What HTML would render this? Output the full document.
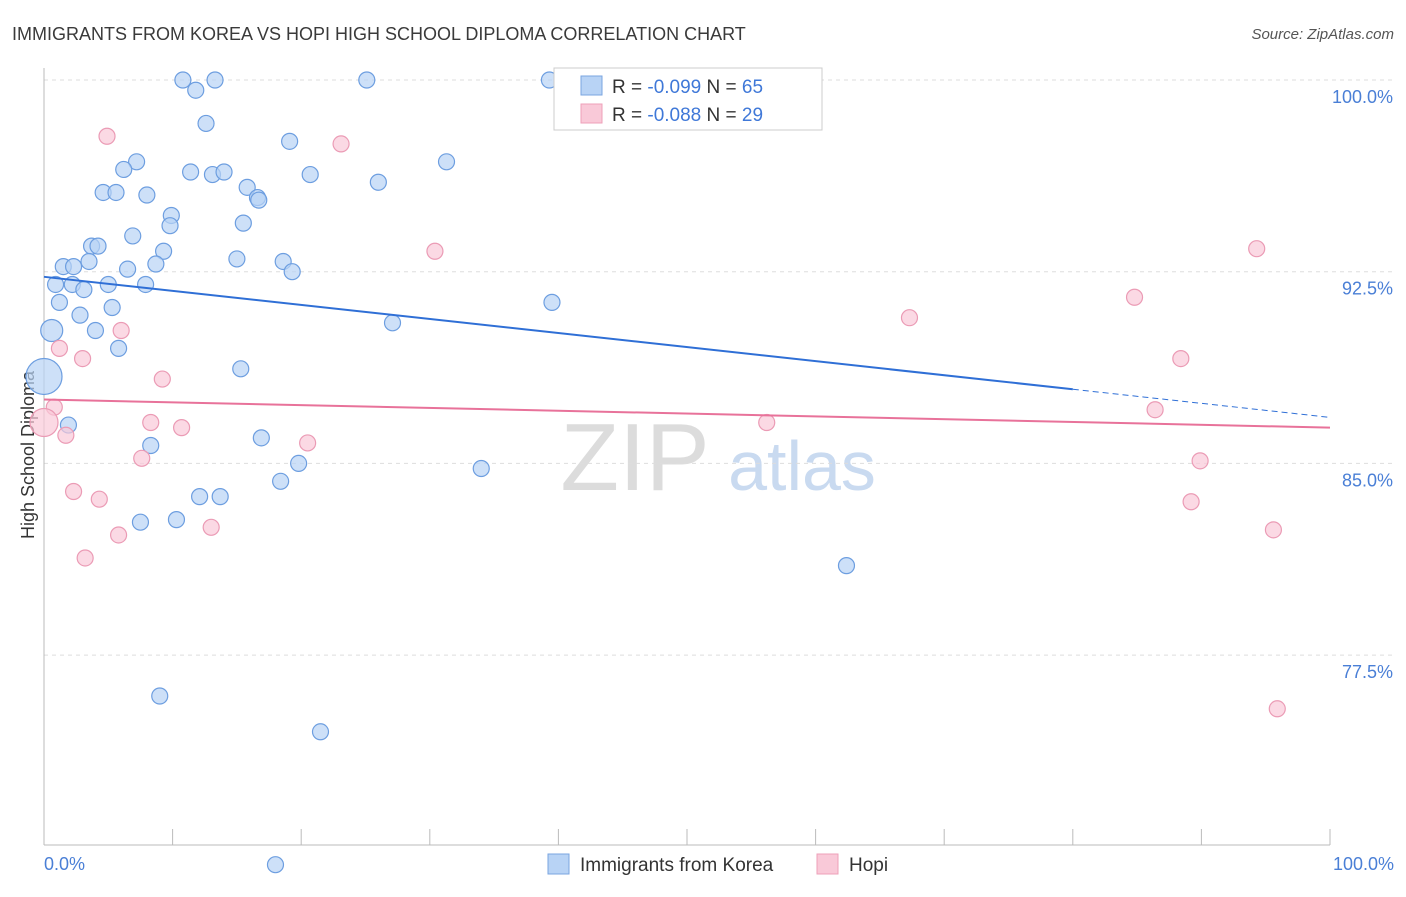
<!DOCTYPE html>
<html><head><meta charset="utf-8"><style>
body{margin:0;background:#fff;font-family:"Liberation Sans",sans-serif;}
svg text{font-family:"Liberation Sans",sans-serif;}
</style></head><body>
<svg id="chart" width="1406" height="892" viewBox="0 0 1406 892" xmlns="http://www.w3.org/2000/svg">
<text x="12" y="40" font-size="18" fill="#3a3a3a">IMMIGRANTS FROM KOREA VS HOPI HIGH SCHOOL DIPLOMA CORRELATION CHART</text>
<text x="1394" y="39" font-size="15" fill="#555" font-style="italic" text-anchor="end">Source: ZipAtlas.com</text>
<g>
<text x="635" y="490" font-size="96" fill="#dcdcdc" font-family="Liberation Serif" text-anchor="middle">ZIP</text>
<text x="802" y="490" font-size="70" fill="#c9daf0" text-anchor="middle">atlas</text>
</g>
<g id="grid"></g>
<line x1="44" y1="68" x2="44" y2="845" stroke="#bbb"/>
<line x1="44" y1="845" x2="1330" y2="845" stroke="#bbb"/>
<g id="xticks"></g>
<text transform="translate(34,455) rotate(-90)" font-size="18" fill="#333" text-anchor="middle">High School Diploma</text>
<text x="44" y="870" font-size="18" fill="#4a7fd6">0.0%</text>
<text x="1394" y="870" font-size="18" fill="#4a7fd6" text-anchor="end">100.0%</text>
<g id="pts"></g>
<g id="trends"></g>
<g>
<rect x="554" y="68" width="268" height="62" fill="#fff" stroke="#ccc"/>
<rect x="581" y="76" width="21" height="19" fill="#b8d3f5" stroke="#7aa5e0"/>
<rect x="581" y="104" width="21" height="19" fill="#f9c9d8" stroke="#eea0b9"/>
<text x="612" y="93" font-size="19" fill="#333">R = <tspan fill="#3f78d8">-0.099</tspan>   N = <tspan fill="#3f78d8">65</tspan></text>
<text x="612" y="121" font-size="19" fill="#333">R = <tspan fill="#3f78d8">-0.088</tspan>   N = <tspan fill="#3f78d8">29</tspan></text>
</g>
<g>
<rect x="548" y="854" width="21" height="20" fill="#b8d3f5" stroke="#7aa5e0"/>
<text x="580" y="871" font-size="19" fill="#333">Immigrants from Korea</text>
<rect x="817" y="854" width="21" height="20" fill="#f9c9d8" stroke="#eea0b9"/>
<text x="849" y="871" font-size="19" fill="#333">Hopi</text>
</g>
</svg>
<script>
const yTicks=[100,92.5,85,77.5];
const yTickLabels=["100.0%","92.5%","85.0%","77.5%"];
const koreaX=[10.8,13.3,25.1,39.3,11.8,12.6,19.1,7.2,6.2,31.3,11.4,13.1,14.0,20.7,26.0,4.6,5.6,8.0,15.8,16.6,16.7,9.9,9.8,15.5,6.9,3.7,4.2,9.3,1.5,2.3,3.5,8.7,6.5,15.0,18.6,19.3,0.9,2.2,3.1,5.0,7.9,1.2,5.3,39.5,2.8,4.0,0.6,27.1,5.8,0.0,15.3,1.9,16.9,8.3,19.8,34.0,18.4,12.1,13.7,7.5,10.3,62.4,9.0,21.5,18.0];
const koreaY=[100,100,100,100,99.6,98.3,97.6,96.8,96.5,96.8,96.4,96.3,96.4,96.3,96.0,95.6,95.6,95.5,95.8,95.4,95.3,94.7,94.3,94.4,93.9,93.5,93.5,93.3,92.7,92.7,92.9,92.8,92.6,93.0,92.9,92.5,92.0,92.0,91.8,92.0,92.0,91.3,91.1,91.3,90.8,90.2,90.2,90.5,89.5,88.4,88.7,86.5,86.0,85.7,85.0,84.8,84.3,83.7,83.7,82.7,82.8,81.0,75.9,74.5,69.3];
const hopiX=[4.9,23.1,30.4,94.3,84.8,67.3,6.0,1.2,3.0,88.4,9.2,0.8,86.4,0.0,8.3,1.7,10.7,56.2,20.5,7.6,89.9,2.3,4.3,5.8,13.0,89.2,95.6,3.2,95.9];
const hopiY=[97.8,97.5,93.3,93.4,91.5,90.7,90.2,89.5,89.1,89.1,88.3,87.2,87.1,86.6,86.6,86.1,86.4,86.6,85.8,85.2,85.1,83.9,83.6,82.2,82.5,83.5,82.4,81.3,75.4];
const koreaTrend=[[0,92.3],[80,87.9],[100,86.8]];
const hopiTrend=[[0,87.5],[100,86.4]];
const X=v=>44+v/100*1286, Y=v=>80+(100-v)*25.56;
const NS="http://www.w3.org/2000/svg";
function mk(tag,attrs,parent){const e=document.createElementNS(NS,tag);for(const k in attrs)e.setAttribute(k,attrs[k]);parent.appendChild(e);return e;}
const grid=document.getElementById('grid');
yTicks.forEach((t,i)=>{
 const l=mk('line',{x1:44,x2:1394,y1:Y(t),y2:Y(t),stroke:'#ddd','stroke-dasharray':'4,4'},grid);
 
 
 const tx=mk('text',{x:1393,y:Y(t)+23,'font-size':18,fill:'#4a7fd6','text-anchor':'end'},grid);
 tx.textContent=yTickLabels[i];
 
 
});
const xt=document.getElementById('xticks');
for(let i=0;i<=10;i++){
 const l=mk('line',{x1:X(i*10),x2:X(i*10),y1:829,y2:845,stroke:'#bbb'},xt);
 
 
}
const pts=document.getElementById('pts');
koreaX.forEach((x,i)=>{
 const r=i==49?18:(i==46?11:8);
 const c=mk('circle',{cx:X(x),cy:Y(koreaY[i]),r:r,fill:'#b8d3f5','fill-opacity':0.7,stroke:'#6d9ee0','stroke-width':1.2},pts);
 
 
});
hopiX.forEach((x,i)=>{
 const r=i==13?14:8;
 const c=mk('circle',{cx:X(x),cy:Y(hopiY[i]),r:r,fill:'#f9c9d8','fill-opacity':0.7,stroke:'#eb9bb5','stroke-width':1.2},pts);
 
 
});
const tr=document.getElementById('trends');
let a=mk('line',{x1:X(koreaTrend[0][0]),y1:Y(koreaTrend[0][1]),x2:X(koreaTrend[1][0]),y2:Y(koreaTrend[1][1]),stroke:'#2f6fd6','stroke-width':2},tr);


a=mk('line',{x1:X(koreaTrend[1][0]),y1:Y(koreaTrend[1][1]),x2:X(koreaTrend[2][0]),y2:Y(koreaTrend[2][1]),stroke:'#2f6fd6','stroke-width':1,'stroke-dasharray':'6,4'},tr);


a=mk('line',{x1:X(hopiTrend[0][0]),y1:Y(hopiTrend[0][1]),x2:X(hopiTrend[1][0]),y2:Y(hopiTrend[1][1]),stroke:'#e8729a','stroke-width':2},tr);


</script>
</body></html>
